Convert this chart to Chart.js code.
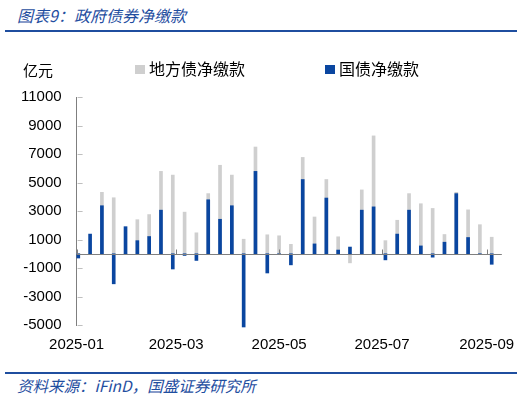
<!DOCTYPE html>
<html lang="zh">
<head>
  <meta charset="UTF-8" />
  <title>政府债券净缴款</title>
  <script src="https://cdn.jsdelivr.net/npm/chart.js"></script>
  <style>
    body { margin: 0; width: 526px; height: 398px; position: relative; background: #fff; overflow: hidden; font-family: "Noto Sans CJK SC", sans-serif; }
    .title, .source { position: absolute; left: 17px; color: #1f4e9f; font-style: italic; line-height: 20px; white-space: nowrap; }
    .title { top: 5px; font-size: 16px; }
    .source { top: 375px; font-size: 15.5px; }
    .rule { position: absolute; left: 5px; width: 512px; height: 2px; background: #1f4e9f; }
    .unit { position: absolute; left: 23px; top: 60px; font-size: 15px; line-height: 20px; color: #000; }
    .legend { position: absolute; top: 58px; font-size: 16px; line-height: 20px; color: #000; white-space: nowrap; }
    .legend i { display: inline-block; width: 10px; height: 9px; margin-right: 4px; vertical-align: 1px; }
    canvas { position: absolute; left: 0; top: 45px; }
  </style>
</head>
<body>
  <canvas id="chart" width="526" height="320"></canvas>
  <div class="title">图表9：政府债券净缴款</div>
  <div class="rule" style="top:30px"></div>
  <div class="unit">亿元</div>
  <div class="legend" style="left:135px"><i style="background:#cfcfcf"></i>地方债净缴款</div>
  <div class="legend" style="left:325px"><i style="background:#0a46a0"></i>国债净缴款</div>
  <div class="rule" style="top:372px"></div>
  <div class="source">资料来源：iFinD，国盛证券研究所</div>

  <script>
    // 每周数据（亿元）
    const weeks = [
      '2025-01-02', '2025-01-09', '2025-01-16', '2025-01-23', '2025-01-30',
      '2025-02-06', '2025-02-13', '2025-02-20', '2025-02-27',
      '2025-03-06', '2025-03-13', '2025-03-20', '2025-03-27',
      '2025-04-03', '2025-04-10', '2025-04-17', '2025-04-24',
      '2025-05-01', '2025-05-08', '2025-05-15', '2025-05-22', '2025-05-29',
      '2025-06-05', '2025-06-12', '2025-06-19', '2025-06-26',
      '2025-07-03', '2025-07-10', '2025-07-17', '2025-07-24', '2025-07-31',
      '2025-08-07', '2025-08-14', '2025-08-21', '2025-08-28',
      '2025-09-04'
    ];
    const localBonds = [
      0, 0, 4310, 3930, 0,
      2390, 2750, 5780, 5520,
      2920, 1470, 4220, 6210,
      5520, 1020, 7490, 1330,
      1260, 660, 6760, 2580, 5210,
      1190, -640, 4480, 8270,
      920, 2350, 4220, 3510, 3180,
      1350, 4310, 3080, 2040,
      1160
    ];
    const treasuryBonds = [
      -300, 1380, 3370, -2110, 1900,
      920, 1210, 3060, -1070,
      -120, -470, 3790, 2420,
      3370, -5140, 5780, -1350,
      0, -780, 5210, 690, 3910,
      260, 470, 3060, 3290,
      -430, 1380, 3060, 550, -240,
      810, 4220, 1140, 0,
      -740
    ];
    const monthLabels = ['2025-01', '2025-03', '2025-05', '2025-07', '2025-09'];
    const axisEnd = '2025-09-10';

    const dayOf = s => (Date.parse(s + 'T00:00:00Z') - Date.parse('2025-01-01T00:00:00Z')) / 864e5;
    const monthDays = monthLabels.map(m => dayOf(m + '-01'));
    const toPoints = vals => vals.map((v, i) => ({ x: dayOf(weeks[i]), y: v }));

    // 零轴、刻度线（向内）
    const axisMarks = {
      id: 'axisMarks',
      afterDatasetsDraw(chart) {
        const { ctx, chartArea, scales: { x, y } } = chart;
        ctx.save();
        ctx.lineWidth = 1;
        const y0 = Math.round(y.getPixelForValue(0)) + 0.5;
        ctx.strokeStyle = '#7f7f7f';
        ctx.beginPath();
        ctx.moveTo(chartArea.left, y0);
        ctx.lineTo(chartArea.right, y0);
        monthDays.forEach(d => {
          const px = Math.round(x.getPixelForValue(d)) + 0.5;
          ctx.moveTo(px, y0);
          ctx.lineTo(px, y0 - 5);
        });
        ctx.stroke();
        ctx.strokeStyle = '#bfbfbf';
        ctx.beginPath();
        y.ticks.forEach(t => {
          const py = Math.round(y.getPixelForValue(t.value)) + 0.5;
          ctx.moveTo(chartArea.left + 1, py);
          ctx.lineTo(chartArea.left + 6, py);
        });
        ctx.stroke();
        ctx.restore();
      }
    };

    new Chart(document.getElementById('chart'), {
      type: 'bar',
      data: {
        datasets: [
          { label: '地方债净缴款', data: toPoints(localBonds), backgroundColor: '#cfcfcf', barThickness: 3, grouped: false, order: 1, clip: false },
          { label: '国债净缴款', data: toPoints(treasuryBonds), backgroundColor: '#0a46a0', barThickness: 3, grouped: false, order: 0, clip: false }
        ]
      },
      options: {
        responsive: false,
        animation: false,
        layout: { padding: { left: 6, right: 23, top: 52, bottom: 0 } },
        plugins: { legend: { display: false }, tooltip: { enabled: false } },
        scales: {
          x: {
            type: 'linear',
            offset: false,
            min: 0,
            max: dayOf(axisEnd),
            grid: { display: false, drawTicks: false },
            border: { display: false },
            afterBuildTicks: s => { s.ticks = monthDays.map(v => ({ value: v })); },
            ticks: {
              autoSkip: false, maxRotation: 0, padding: 11, color: '#000',
              font: { family: 'Liberation Sans', size: 15 },
              callback: v => monthLabels[monthDays.indexOf(v)]
            }
          },
          y: {
            min: -5000,
            max: 11000,
            grid: { display: false, drawTicks: false },
            border: { display: true, color: '#7f7f7f' },
            ticks: {
              stepSize: 2000, padding: 15, color: '#000',
              font: { family: 'Liberation Sans', size: 15 },
              callback: v => String(v)
            }
          }
        }
      },
      plugins: [axisMarks]
    });
  </script>
</body>
</html>
